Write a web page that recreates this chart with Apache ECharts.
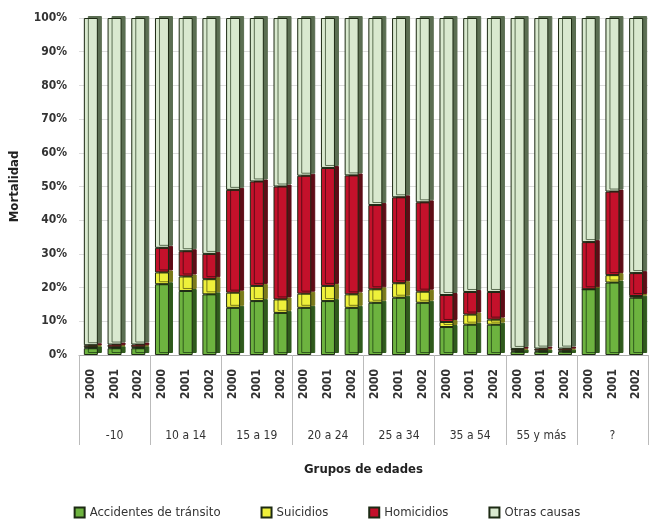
<!DOCTYPE html>
<html>
<head>
<meta charset="utf-8">
<script src="https://cdn.jsdelivr.net/npm/echarts@6/dist/echarts.min.js"></script>
<style>
  html, body { margin: 0; padding: 0; background: #fff; }
  #chart { width: 654px; height: 524px; }
</style>
</head>
<body>
<div id="chart"></div>
<script>
// grupos y años
const groups = ['-10', '10 a 14', '15 a 19', '20 a 24', '25 a 34', '35 a 54', '55 y más', '?']
const years = ['2000', '2001', '2002']
const bars = groups.flatMap(g => years.map(y => y))

// porcentajes por barra (3 años x 8 grupos)
const accidentes = [2, 2, 2, 21, 19, 18, 14, 16, 12.5, 14, 16, 14, 15.5, 17, 15.5, 8.3, 9, 9, 1, 1, 1, 19.5, 21.5, 17]
const suicidios = [0.3, 0.3, 0.3, 3.5, 4.3, 4.5, 4.5, 4.5, 4, 4.2, 4.5, 4, 4, 4.3, 3.3, 1.5, 3, 1.5, 0.3, 0.3, 0.3, 0, 2.2, 0.5]
const homicidios = [0.6, 0.8, 0.8, 7.3, 7.5, 7.5, 30.5, 31, 33.5, 35, 35, 35.3, 25, 25.5, 26.5, 8, 6.7, 8.2, 0.5, 0.6, 0.6, 14, 24.8, 6.8]
const otras = accidentes.map((v, i) => +(100 - v - suicidios[i] - homicidios[i]).toFixed(1))

const yTicks = ['0%', '10%', '20%', '30%', '40%', '50%', '60%', '70%', '80%', '90%', '100%']

const font = '"DejaVu Sans Condensed", "Liberation Sans Narrow", sans-serif'
const chart = echarts.init(document.getElementById('chart'))

const mkSeries = (name, data, color, side) => ({
  name,
  type: 'bar',
  stack: 'total',
  barWidth: 14,
  data,
  itemStyle: {
    color,
    borderColor: '#1d2a14',
    borderWidth: 1,
    shadowColor: side,
    shadowOffsetX: 4,
    shadowOffsetY: -2,
    shadowBlur: 0
  }
})

chart.setOption({
  animation: false,
  textStyle: { fontFamily: font },
  grid: { left: 78, right: 6, top: 18, bottom: 169 },
  legend: {
    bottom: 0,
    left: 'center',
    itemWidth: 10,
    itemHeight: 10,
    itemGap: 40,
    icon: 'rect',
    textStyle: { fontSize: 13, color: '#333', fontFamily: font },
    data: ['Accidentes de tránsito', 'Suicidios', 'Homicidios', 'Otras causas']
  },
  xAxis: [
    {
      type: 'category',
      data: bars,
      axisLine: { lineStyle: { color: '#aaa' } },
      axisTick: { show: false },
      axisLabel: {
        rotate: 90,
        fontSize: 12,
        fontWeight: 'bold',
        color: '#333',
        margin: 14
      }
    },
    {
      type: 'category',
      position: 'bottom',
      data: groups,
      axisLine: { show: false },
      axisTick: { show: true, length: 90, lineStyle: { color: '#bbb' } },
      axisLabel: { fontSize: 12, color: '#333', margin: 75 },
      name: 'Grupos de edades',
      nameLocation: 'middle',
      nameGap: 108,
      nameTextStyle: { fontSize: 13, fontWeight: 'bold', color: '#222' }
    }
  ],
  yAxis: {
    type: 'value',
    min: 0,
    max: 100,
    interval: 10,
    name: 'Mortalidad',
    nameLocation: 'middle',
    nameGap: 58,
    nameTextStyle: { fontSize: 13, fontWeight: 'bold', color: '#222' },
    axisLine: { show: false },
    axisTick: { show: false },
    axisLabel: {
      fontSize: 12,
      fontWeight: 'bold',
      color: '#333',
      margin: 12,
      formatter: (v) => yTicks[Math.round(v / 10)]
    },
    splitLine: { lineStyle: { color: '#ddd' } }
  },
  series: [
    mkSeries('Accidentes de tránsito', accidentes, '#6db33f', '#2f5a1c'),
    mkSeries('Suicidios', suicidios, '#eef03a', '#7a7a1a'),
    mkSeries('Homicidios', homicidios, '#c4112b', '#5e0c16'),
    mkSeries('Otras causas', otras, '#d9e9cf', '#5b6e52')
  ]
})
</script>
</body>
</html>
